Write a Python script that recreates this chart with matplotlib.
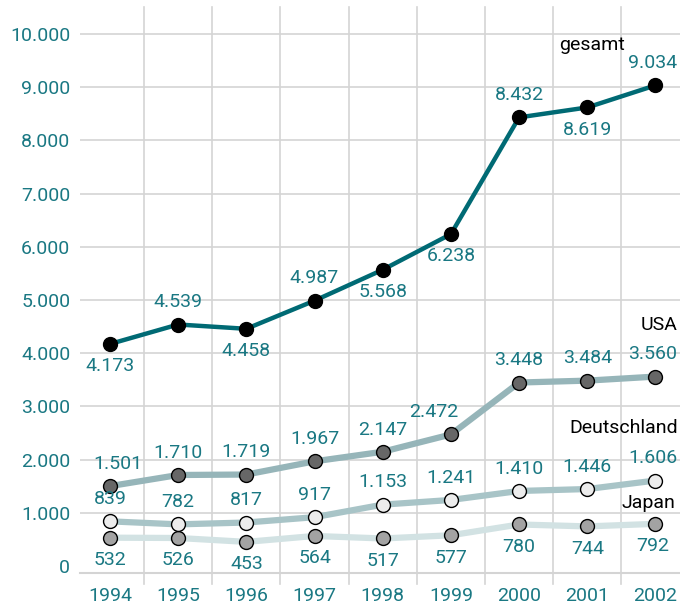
import matplotlib
matplotlib.use("Agg")
import matplotlib.pyplot as plt

plt.rcParams['font.family'] = ['Roboto', 'DejaVu Sans']

years = [1994, 1995, 1996, 1997, 1998, 1999, 2000, 2001, 2002]
gesamt = [4173, 4539, 4458, 4987, 5568, 6238, 8432, 8619, 9034]
usa = [1501, 1710, 1719, 1967, 2147, 2472, 3448, 3484, 3560]
deutschland = [839, 782, 817, 917, 1153, 1241, 1410, 1446, 1606]
japan = [532, 526, 453, 564, 517, 577, 780, 744, 792]

# label above (+1) or below (-1) the point
gesamt_pos = [-1, 1, -1, 1, -1, -1, 1, -1, 1]
usa_pos = [1] * 9
de_pos = [1] * 9
jp_pos = [-1] * 9

teal = '#1a7883'


def fmt(v):
    return f"{v:,}".replace(",", ".")


fig = plt.figure(figsize=(6.8, 6.04), dpi=100)
ax = fig.add_axes([80 / 680, 1 - 573 / 604, 600 / 680, 566 / 604])
ax.set_xlim(1993.56, 2002.36)
ax.set_ylim(-132, 10507)

# grid
for v in range(1000, 10001, 1000):
    ax.axhline(v, color='#d4d4d4', lw=1.2, zorder=0)
for x in [y + 0.5 for y in years[:-1]]:
    ax.plot([x, x], [-0.02, 1], transform=ax.get_xaxis_transform(),
            color='#d4d4d4', lw=1.2, zorder=0, clip_on=False)

for s in ['top', 'right', 'left']:
    ax.spines[s].set_visible(False)
ax.spines['bottom'].set_color('#d4d4d4')
ax.spines['bottom'].set_linewidth(1.5)

series = [
    (japan, '#d2e2e3', '#a3a3a3', 4.5, jp_pos),
    (deutschland, '#a8c4c7', '#ececec', 4.5, de_pos),
    (usa, '#96b5b9', '#676767', 4.5, usa_pos),
    (gesamt, '#006a74', '#000000', 3.2, gesamt_pos),
]
for vals, lc, mc, lw, pos in series:
    ax.plot(years, vals, color=lc, lw=lw, zorder=2,
            marker='o', markersize=10, markerfacecolor=mc,
            markeredgecolor='black', markeredgewidth=1.0)
    for x, v, p in zip(years, vals, pos):
        dx = 0
        if vals is usa and x == 1999:
            dx = -12
        if vals is usa and x == 1994:
            dx = 6
        if x == 2002:
            dx = -2
        ax.annotate(fmt(v), (x, v), xytext=(dx, 16 * p), textcoords='offset points',
                    ha='center', va='center', color=teal, fontsize=14, zorder=4)

# series names
ax.text(2001.07, 9790, 'gesamt', ha='center', va='center', fontsize=14, color='black')
ax.text(2002.33, 4530, 'USA', ha='right', va='center', fontsize=14, color='black')
ax.text(2002.33, 2594, 'Deutschland', ha='right', va='center', fontsize=14, color='black')
ax.text(2002.29, 1184, 'Japan', ha='right', va='center', fontsize=14, color='black')

ax.set_xticks(years)
ax.set_xticklabels([str(y) for y in years])
ax.set_yticks(range(0, 10001, 1000))
ax.set_yticklabels([fmt(v) for v in range(0, 10001, 1000)])
ax.tick_params(axis='both', length=0, colors=teal, labelsize=14)
ax.tick_params(axis='y', pad=7)
ax.tick_params(axis='x', pad=10)

fig.savefig('out.png', dpi=100)
